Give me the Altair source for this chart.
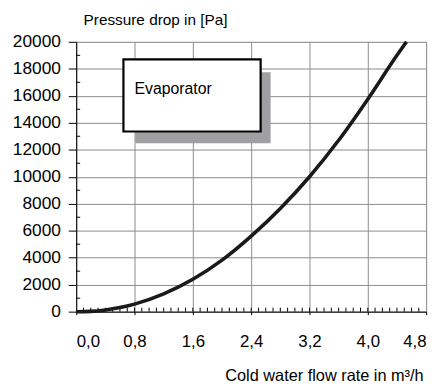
import altair as alt
import pandas as pd

# Curve data
flow = [0.0, 0.2, 0.4, 0.6, 0.8, 1.2, 1.6, 2.0, 2.4, 2.8, 3.2, 3.6, 4.0, 4.4, 4.53]
pressure = [0, 20, 120, 300, 560, 1320, 2400, 3820, 5600, 7650, 10000, 12700, 15750, 19000, 20000]

x_ticks = [0.0, 0.8, 1.6, 2.4, 3.2, 4.0, 4.8]
y_ticks = [0, 2000, 4000, 6000, 8000, 10000, 12000, 14000, 16000, 18000, 20000]
x_minor = [round(i * 0.1, 1) for i in range(1, 48)]
y_minor = [1000, 3000, 5000, 7000, 9000, 11000, 13000, 15000, 17000, 19000]

# Annotation box ("Evaporator") in data units
box_label = ["Evaporator"]
box_x = [0.648, 2.53]
box_y = [13355, 18700]
shadow_x = [0.81, 2.667]
shadow_y = [12480, 17750]
label_pos = [0.80, 16500]

W, H = 354, 273
FONT = "Liberation Sans"

xs = alt.Scale(domain=[0, 4.8], nice=False, zero=False)
ys = alt.Scale(domain=[0, 20000], nice=False)

x_axis = alt.Axis(
    values=x_ticks, grid=True, gridColor="#8c8c8c", gridWidth=1,
    domainColor="#000", domainWidth=1, tickColor="#000", tickSize=3,
    labelExpr="replace(format(datum.value, '.1f'), '.', ',')",
    labelFont=FONT, labelFontSize=17, labelColor="#000", labelPadding=19,
    labelOverlap=False,
    title="Cold water flow rate in m³/h", titleFont=FONT, titleFontSize=16.5,
    titleFontWeight="normal", titleColor="#000", titleAlign="right",
    titleAnchor="end", titleX=W - 3, titleY=65, titleBaseline="middle")
y_axis = alt.Axis(
    values=y_ticks, grid=True, gridColor="#8c8c8c", gridWidth=1,
    domainColor="#000", domainWidth=1, tickColor="#000", tickSize=8,
    format="d", labelFont=FONT, labelFontSize=17.5, labelColor="#000", labelPadding=8,
    labelOverlap=False, labelSeparation=0,
    title="Pressure drop in [Pa]", titleFont=FONT, titleFontSize=15.5,
    titleFontWeight="normal", titleColor="#000", titleAngle=0,
    titleAlign="left", titleX=7, titleY=-22, titleBaseline="middle")


def X(field):
    return alt.X(field, type="quantitative", scale=xs, axis=x_axis)


def Y(field):
    return alt.Y(field, type="quantitative", scale=ys, axis=y_axis)


df = pd.DataFrame({"q": flow, "p": pressure})

xminor = alt.Chart(pd.DataFrame({"q": x_minor})).mark_rule(color="#000", strokeWidth=1).encode(
    x=X("q"), y=alt.value(H), y2=alt.value(H - 4))
yminor = alt.Chart(pd.DataFrame({"p": y_minor})).mark_rule(color="#000", strokeWidth=1).encode(
    y=Y("p"), x=alt.value(0), x2=alt.value(4))

shadow = alt.Chart(pd.DataFrame({"q": [shadow_x[0]], "q2": [shadow_x[1]],
                                 "p": [shadow_y[0]], "p2": [shadow_y[1]]})).mark_rect(
    color="#a0a0a2").encode(x=X("q"), x2="q2:Q", y=Y("p"), y2="p2:Q")
box = alt.Chart(pd.DataFrame({"q": [box_x[0]], "q2": [box_x[1]],
                              "p": [box_y[0]], "p2": [box_y[1]]})).mark_rect(
    fill="#ffffff", stroke="#000", strokeWidth=2.2).encode(
    x=X("q"), x2="q2:Q", y=Y("p"), y2="p2:Q")
label = alt.Chart(pd.DataFrame({"t": box_label, "q": [label_pos[0]], "p": [label_pos[1]]})).mark_text(
    align="left", baseline="middle", font=FONT, fontSize=16, color="#000").encode(
    x=X("q"), y=Y("p"), text="t:N")

curve = alt.Chart(df).mark_line(color="#1a1a1a", strokeWidth=3.6, interpolate="monotone").encode(
    x=X("q"), y=Y("p"))

chart = alt.layer(xminor, yminor, shadow, box, label, curve).properties(
    width=W, height=H,
    autosize=alt.AutoSizeParams(type="none"),
    padding={"left": 69, "top": 32, "right": 10, "bottom": 72},
).configure_view(stroke=None).configure_axis(labelOverlap=False).configure(background="#ffffff")

chart.save("out.html", embed_options={"renderer": "svg", "actions": False})
